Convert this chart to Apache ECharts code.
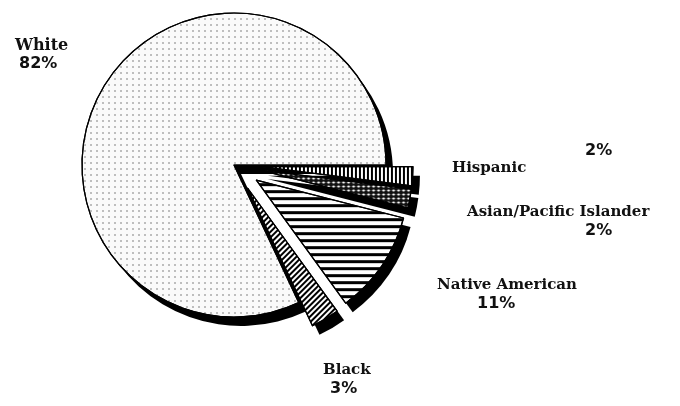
<!DOCTYPE html>
<html>
<head>
<meta charset="utf-8">
<style>
  html, body { margin: 0; padding: 0; background: #fff; }
  #chart { width: 680px; height: 406px; }
</style>
<script src="https://cdn.jsdelivr.net/npm/echarts@6/dist/echarts.min.js"></script>
</head>
<body>
<div id="chart"></div>
<script>
// shares of the population, in the order drawn (White first, then clockwise)
var groups = ['White', 'Hispanic', 'Asian/Pacific Islander', 'Native American', 'Black']
var shares = [82, 2, 2, 11, 3]
var pctLabels = ['82%', '2%', '2%', '11%', '3%']
var exploded = [false, true, true, true, true]

var total = shares.reduce(function(a, b) { return a + b }, 0)

// fill patterns, one per slice
var fills = [
  { color: '#fafafa', decal: { symbol: 'circle', symbolSize: 0.8, dashArrayX: [2, 3.5], dashArrayY: [2, 3.5], color: 'rgba(80,80,80,0.8)' } },
  { color: '#fff', decal: { symbol: 'rect', symbolSize: 1, dashArrayX: [2, 2], dashArrayY: [1, 0], color: '#000' } },
  { color: '#111', decal: { symbol: 'diamond', symbolSize: 0.9, dashArrayX: [4, 1], dashArrayY: [3, 1], color: '#fff' } },
  { color: '#fff', decal: { symbol: 'rect', symbolSize: 1, dashArrayX: [1, 0], dashArrayY: [3, 4], color: '#000' } },
  { color: '#fff', decal: { symbol: 'rect', symbolSize: 1, dashArrayX: [1, 0], dashArrayY: [2, 2], rotation: -Math.PI / 4, color: '#000' } }
]

// where each label block sits (left, top) and how far the percent line is pushed right
var labelSpots = {
  'White': { x: 15, y: 36, pad: 4, pctFirst: false },
  'Hispanic': { x: 452, y: 142, pad: 133, pctFirst: true },
  'Asian/Pacific Islander': { x: 467, y: 203, pad: 118, pctFirst: false },
  'Native American': { x: 437, y: 276, pad: 40, pctFirst: false },
  'Black': { x: 323, y: 361, pad: 7, pctFirst: false }
}

var pieCenter = [234, 165]
var pieRadius = 152
var startAt = 360 * shares[0] / total

var chart = echarts.init(document.getElementById('chart'))

function slices(styleFn, extraFn) {
  return groups.map(function(name, i) {
    var item = { name: name, value: shares[i], selected: exploded[i], itemStyle: styleFn(i) }
    if (extraFn) Object.assign(item, extraFn(name, i))
    return item
  })
}

var common = {
  type: 'pie',
  center: pieCenter,
  radius: pieRadius,
  startAngle: startAt,
  clockwise: true,
  selectedMode: 'multiple',
  selectedOffset: 27,
  emphasis: { disabled: true },
  labelLine: { show: false }
}

chart.setOption({
  backgroundColor: '#fff',
  animation: false,
  series: [
    // black drop shadow under every slice
    Object.assign({}, common, {
      silent: true,
      label: { show: false },
      data: slices(function() {
        return { color: '#000', shadowColor: '#000', shadowBlur: 0, shadowOffsetX: 7, shadowOffsetY: 9 }
      })
    }),
    // patterned slices
    Object.assign({}, common, {
      label: { show: false },
      data: slices(function(i) {
        return { color: fills[i].color, decal: fills[i].decal, borderColor: '#000', borderWidth: 1.2 }
      })
    }),
    // text labels
    Object.assign({}, common, {
      silent: true,
      selectedMode: false,
      itemStyle: { color: 'rgba(0,0,0,0)' },
      label: {
        show: true,
        position: 'outside',
        overflow: 'none',
        color: '#111',
        align: 'left',
        rich: {
          w: { fontFamily: 'DejaVu Serif', fontWeight: 'bold', fontSize: 16, lineHeight: 19, color: '#111' },
          n: { fontFamily: 'DejaVu Serif', fontWeight: 'bold', fontSize: 15, lineHeight: 19, color: '#111' },
          p: { fontFamily: 'DejaVu Sans', fontWeight: 'bold', fontSize: 16, lineHeight: 17, color: '#111' }
        }
      },
      labelLayout: function(params) {
        var spot = labelSpots[groups[params.dataIndex]]
        return { x: spot.x, y: spot.y, align: 'left', verticalAlign: 'top' }
      },
      data: slices(function() { return { color: 'rgba(0,0,0,0)' } }, function(name, i) {
        var spot = labelSpots[name]
        return {
          selected: false,
          label: {
            formatter: spot.pctFirst
              ? '{p|' + pctLabels[i] + '}\n{n|' + name + '}'
              : '{' + (i === 0 ? 'w' : 'n') + '|' + name + '}\n{p|' + pctLabels[i] + '}',
            rich: { p: { padding: [0, 0, 0, spot.pad] } }
          }
        }
      })
    })
  ]
})
</script>
</body>
</html>
